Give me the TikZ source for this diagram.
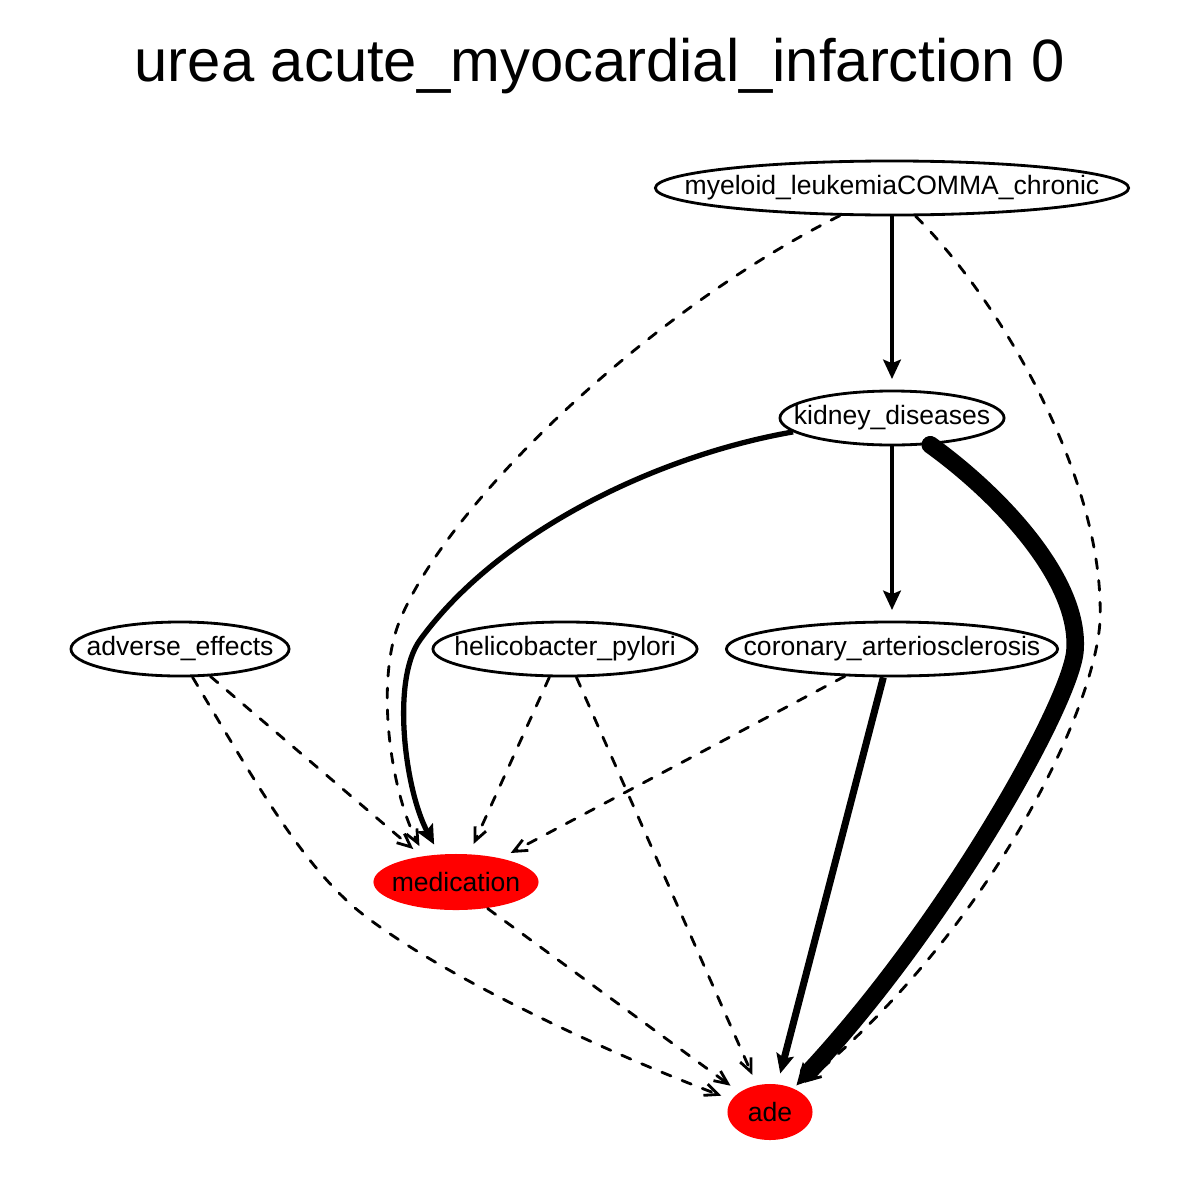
\documentclass[tikz,border=0pt]{standalone}
\usepackage{fontspec}
\setmainfont{Liberation Sans}
\usetikzlibrary{arrows.meta,shapes.geometric}
\definecolor{hred}{HTML}{FF0000}
\tikzset{
  % outlined variable; the label is boxed at zero width so the ellipse keeps its size
  var/.style  = {ellipse, draw=black, line width=0.8pt, inner sep=0pt,
                 minimum height=0.54cm, font=\fontsize{7.55}{9}\selectfont},
  hit/.style  = {ellipse, fill=hred, inner sep=0pt,
                 minimum height=0.56cm, font=\fontsize{7.55}{9}\selectfont},
  dep/.style  = {line width=0.8pt, line cap=round, dash pattern=on 2.8pt off 3.4pt, shorten >=3pt,
                 -{Straight Barb[length=3.8pt,width=3.4pt]}},
  arr/.style  = {line width=#1, shorten >=3pt, -{Stealth[length=5.5pt,width=5pt,inset=1pt]}},
  arr/.default = 1.1pt,
  heavy/.style = {line width=5pt, line cap=round, shorten >=1pt,
                  -{Stealth[length=6pt,width=6pt,inset=0.5pt]}},
  ttl/.style  = {font=\fontsize{17}{20}\selectfont},
}
\newcommand{\vname}[1]{\makebox[0pt]{#1}}

\begin{document}
\begin{tikzpicture}[x=0.01cm,y=-0.01cm]
\useasboundingbox (0,0) rectangle (1200,1200);
\node[ttl] (title) at (600,66) {urea acute\_myocardial\_infarction 0};
% variables
\node[var, minimum width=4.73cm] (myel) at (892,188) {\vname{myeloid\_leukemiaCOMMA\_chronic}};
\node[var, minimum width=2.24cm] (kid)  at (892,418) {\vname{kidney\_diseases}};
\node[var, minimum width=2.18cm] (adv)  at (180,649) {\vname{adverse\_effects}};
\node[var, minimum width=2.64cm] (hel)  at (565,649) {\vname{helicobacter\_pylori}};
\node[var, minimum width=3.31cm] (cor)  at (892,649) {\vname{coronary\_arteriosclerosis}};
\node[hit, minimum width=1.65cm] (med)  at (456,882) {\vname{medication}};
\node[hit, minimum width=0.85cm] (ade)  at (770,1112) {\vname{ade}};
% solid edges
\draw[arr] (myel) -- (kid);
\draw[arr] (kid) -- (cor);
\draw[arr=1.5pt] (kid.188) .. controls (660,455) and (500,530) .. (420,640)
      .. controls (391,680) and (405,790) .. (med.121);
\draw[arr=2pt] (cor.253) -- (ade.75);
\draw[heavy] (kid.325) .. controls (1000,495) and (1080,580) .. (1075,650)
      .. controls (1072,700) and (950,920) .. (ade.45);
% dashed edges
\draw[dep] (myel.208) .. controls (650,310) and (450,500) .. (400,620)
      .. controls (375,680) and (390,790) .. (med.140);
\draw[dep] (myel.310) .. controls (1000,300) and (1105,480) .. (1100,620)
      .. controls (1097,700) and (1000,920) .. (ade.40);
\draw[dep] (adv.318) -- (med.143);
\draw[dep] (adv.294) .. controls (260,790) and (300,860) .. (355,908)
      .. controls (430,970) and (600,1050) .. (ade.162);
\draw[dep] (hel.241) -- (med.65);
\draw[dep] (hel.292) -- (ade.116);
\draw[dep] (cor.210) -- (med.28);
\draw[dep] (med.320) -- (ade.147);
\end{tikzpicture}
\end{document}
